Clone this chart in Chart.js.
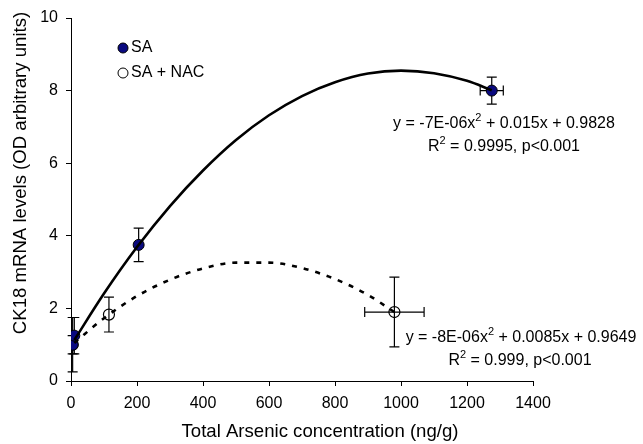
<!DOCTYPE html>
<html>
<head>
<meta charset="utf-8">
<script src="https://cdn.jsdelivr.net/npm/chart.js@4/dist/chart.umd.min.js"></script>
<style>
html,body{margin:0;padding:0;background:#fff;}
#wrap{width:643px;height:444px;position:relative;}
</style>
</head>
<body>
<div id="wrap"><canvas id="c" width="643" height="444"></canvas></div>
<script>
// ---- data ----
const saX = [5, 10, 205, 1275];
const saY = [1.0, 1.25, 3.75, 8.0];
const saYErr = [0.25, 0.5, 0.46, 0.37];
const saXErr = [0, 0, 0, 35];

const nacX = [5, 115, 980];
const nacY = [1.0, 1.83, 1.9];
const nacYErr = [0.75, 0.48, 0.96];
const nacXErr = [0, 0, 90];

// trend curves
const saCurveX = [10, 100, 200, 300, 400, 500, 600, 700, 800, 900, 1000, 1100, 1200, 1275];
const saCurveY = [1.13, 2.41, 3.69, 4.82, 5.80, 6.64, 7.32, 7.85, 8.23, 8.47, 8.55, 8.48, 8.27, 8.01];
const nacCurveX = [10, 100, 200, 300, 400, 500, 600, 700, 800, 900, 980];
const nacCurveY = [1.05, 1.73, 2.34, 2.79, 3.10, 3.26, 3.26, 3.11, 2.81, 2.37, 1.90];

const xTicks = [0, 200, 400, 600, 800, 1000, 1200, 1400];
const yTicks = [0, 2, 4, 6, 8, 10];

const seriesNames = ['SA', 'SA + NAC'];
const xTitle = 'Total Arsenic concentration (ng/g)';
const yTitle = 'CK18 mRNA levels (OD arbitrary units)';
const eqSA = ['y = -7E-06x', '2', ' + 0.015x + 0.9828'];
const r2SA = ['R', '2', ' = 0.9995, p<0.001'];
const eqNAC = ['y = -8E-06x', '2', ' + 0.0085x + 0.9649'];
const r2NAC = ['R', '2', ' = 0.999, p<0.001'];

// ---- build ----
const FONT = '"Liberation Sans", Arial, Helvetica, sans-serif';
const FS = 16;
const FT = 18.6;
const zip = (xs, ys) => xs.map((x, i) => ({x: x, y: ys[i]}));

const errorBars = {
  id: 'errorBars',
  beforeDatasetsDraw(chart) {
    const ctx = chart.ctx;
    const xs = chart.scales.x, ys = chart.scales.y;
    const cap = 5;
    ctx.save();
    ctx.strokeStyle = '#000';
    ctx.lineWidth = 1.2;
    const draw = (X, Y, YE, XE) => {
      for (let i = 0; i < X.length; i++) {
        const px = xs.getPixelForValue(X[i]);
        const py = ys.getPixelForValue(Y[i]);
        if (YE[i] > 0) {
          const t = ys.getPixelForValue(Y[i] + YE[i]);
          const b = ys.getPixelForValue(Y[i] - YE[i]);
          ctx.beginPath();
          ctx.moveTo(px, t); ctx.lineTo(px, b);
          ctx.moveTo(px - cap, t); ctx.lineTo(px + cap, t);
          ctx.moveTo(px - cap, b); ctx.lineTo(px + cap, b);
          ctx.stroke();
        }
        if (XE[i] > 0) {
          const l = xs.getPixelForValue(X[i] - XE[i]);
          const r = xs.getPixelForValue(X[i] + XE[i]);
          ctx.beginPath();
          ctx.moveTo(l, py); ctx.lineTo(r, py);
          ctx.moveTo(l, py - cap); ctx.lineTo(l, py + cap);
          ctx.moveTo(r, py - cap); ctx.lineTo(r, py + cap);
          ctx.stroke();
        }
      }
    };
    draw(nacX, nacY, nacYErr, nacXErr);
    draw(saX, saY, saYErr, saXErr);
    ctx.restore();
  }
};

function drawSup(ctx, parts, cx, cy) {
  const big = FS + 'px ' + FONT, small = '11px ' + FONT;
  ctx.font = big; const w0 = ctx.measureText(parts[0]).width;
  ctx.font = small; const w1 = ctx.measureText(parts[1]).width;
  ctx.font = big; const w2 = ctx.measureText(parts[2]).width;
  let x = cx - (w0 + w1 + w2) / 2;
  ctx.textAlign = 'left';
  ctx.textBaseline = 'middle';
  ctx.font = big; ctx.fillText(parts[0], x, cy); x += w0;
  ctx.font = small; ctx.fillText(parts[1], x, cy - 6); x += w1;
  ctx.font = big; ctx.fillText(parts[2], x, cy);
}

const annotations = {
  id: 'annotations',
  afterDraw(chart) {
    const ctx = chart.ctx;
    ctx.save();
    ctx.fillStyle = '#000';
    drawSup(ctx, eqSA, 504, 124);
    drawSup(ctx, r2SA, 504, 147);
    drawSup(ctx, eqNAC, 521, 338);
    drawSup(ctx, r2NAC, 520, 361);
    // axis titles
    ctx.font = FT + 'px ' + FONT;
    ctx.textAlign = 'center'; ctx.textBaseline = 'middle';
    ctx.fillText(xTitle, 320, 432);
    ctx.save();
    ctx.translate(21, 173);
    ctx.rotate(-Math.PI / 2);
    ctx.fillText(yTitle, 0, 0);
    ctx.restore();
    // legend
    const lx = 123;
    ctx.lineWidth = 1;
    ctx.strokeStyle = '#000';
    ctx.beginPath(); ctx.arc(lx, 48, 5, 0, Math.PI * 2);
    ctx.fillStyle = '#0a0a80'; ctx.fill(); ctx.stroke();
    ctx.beginPath(); ctx.arc(lx, 73, 5, 0, Math.PI * 2);
    ctx.fillStyle = '#fff'; ctx.fill(); ctx.stroke();
    ctx.fillStyle = '#000';
    ctx.font = FS + 'px ' + FONT;
    ctx.textAlign = 'left'; ctx.textBaseline = 'middle';
    ctx.fillText(seriesNames[0], 131, 48);
    ctx.fillText(seriesNames[1], 131, 73);
    ctx.restore();
  }
};

new Chart(document.getElementById('c'), {
  type: 'scatter',
  data: {
    datasets: [
      {
        label: seriesNames[0] + ' fit', type: 'line', data: zip(saCurveX, saCurveY),
        borderColor: '#000', borderWidth: 2.6, pointRadius: 0, fill: false,
        cubicInterpolationMode: 'monotone', order: 1
      },
      {
        label: seriesNames[1] + ' fit', type: 'line', data: zip(nacCurveX, nacCurveY),
        borderColor: '#000', borderWidth: 2.6, borderDash: [5, 7], pointRadius: 0, fill: false,
        cubicInterpolationMode: 'monotone', order: 1
      },
      {
        label: seriesNames[1], data: zip(nacX, nacY),
        pointRadius: 5.5, pointBackgroundColor: 'rgba(0,0,0,0)', pointBorderColor: '#000',
        pointBorderWidth: 1.2, showLine: false, order: 3
      },
      {
        label: seriesNames[0], data: zip(saX, saY),
        pointRadius: 5.5, pointBackgroundColor: '#0a0a80', pointBorderColor: '#000',
        pointBorderWidth: 1, showLine: false, order: 2
      }
    ]
  },
  options: {
    responsive: false,
    animation: false,
    events: [],
    layout: {padding: {left: 8, right: 110, top: 18, bottom: 0}},
    plugins: {legend: {display: false}, tooltip: {enabled: false}},
    scales: {
      x: {
        type: 'linear', min: 0, max: 1400,
        afterBuildTicks: s => { s.ticks = xTicks.map(v => ({value: v})); },
        afterFit: s => { s.height = 444 - 381; },
        grid: {drawOnChartArea: false, drawTicks: true, tickLength: 5, color: '#000', lineWidth: 1},
        border: {color: '#000', width: 1},
        ticks: {color: '#000', font: {family: FONT, size: FS}, padding: 8, maxRotation: 0,
                callback: v => String(v)},
        title: {display: false}
      },
      y: {
        type: 'linear', min: 0, max: 10,
        afterBuildTicks: s => { s.ticks = yTicks.map(v => ({value: v})); },
        afterFit: s => { s.width = 71 - 8; },
        grid: {drawOnChartArea: false, drawTicks: true, tickLength: 5, color: '#000', lineWidth: 1},
        border: {color: '#000', width: 1},
        ticks: {color: '#000', font: {family: FONT, size: FS}, padding: 8, callback: v => String(v)},
        title: {display: false}
      }
    }
  },
  plugins: [errorBars, annotations]
});
</script>
</body>
</html>
